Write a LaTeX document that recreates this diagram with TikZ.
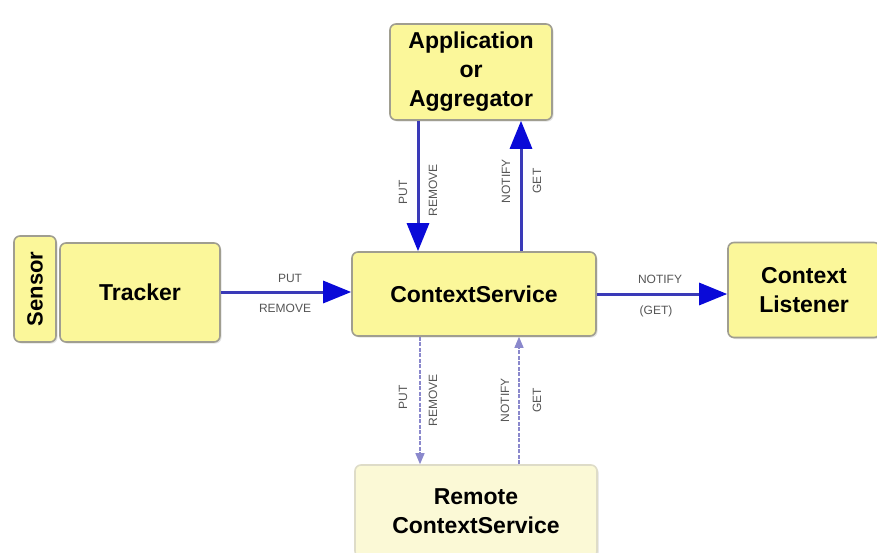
\documentclass[tikz,border=0pt]{standalone}
\usepackage{fontspec}
\setmainfont{Liberation Sans}
\usetikzlibrary{arrows.meta,shadows}
\definecolor{boxfill}{HTML}{FBF79A}
\definecolor{boxline}{HTML}{A09E90}
\definecolor{palefill}{HTML}{FBF9D6}
\definecolor{paleline}{HTML}{DEDCC8}
\definecolor{shaft}{HTML}{3A3AB8}
\definecolor{headc}{HTML}{0A0AD8}
\definecolor{thinc}{HTML}{8A88CC}
\definecolor{lblc}{HTML}{555555}
\begin{document}
\begin{tikzpicture}[x=1pt,y=-1pt,
  box/.style={draw=boxline,line width=1.6pt,fill=boxfill,rounded corners=6pt,
    align=center,inner sep=2pt,font=\fontsize{23}{29}\selectfont\bfseries,
    drop shadow={shadow xshift=1.5pt,shadow yshift=-1.5pt,fill=gray!45}},
  palebox/.style={box,draw=paleline,fill=palefill,drop shadow={shadow xshift=1.5pt,shadow yshift=-1.5pt,fill=gray!20}},
  bigarrow/.style={draw=shaft,line width=3pt,-{Triangle[length=28pt,width=22pt,fill=headc,color=headc]}},
  thinarrow/.style={draw=thinc,line width=1.2pt,dash pattern=on 4pt off 1.5pt,-{Triangle[length=11pt,width=9pt,fill=thinc,color=thinc]}},
  lbl/.style={text=lblc,font=\fontsize{12}{14}\selectfont,inner sep=1pt},
  vlbl/.style={lbl,rotate=90}]
\useasboundingbox (0,0) rectangle (877,552);
% nodes
\node[box,minimum width=162pt,minimum height=96pt] (app) at (471,72) {Application\\or\\Aggregator};
\node[box,minimum width=244pt,minimum height=84pt] (cs) at (474,294) {ContextService};
\node[box,minimum width=160pt,minimum height=99pt] (tracker) at (140,292.5) {Tracker};
\node[box,minimum width=42pt,minimum height=106pt] (sensor) at (35,289) {};
\node[rotate=90,font=\fontsize{22}{26}\selectfont\bfseries] (sensortxt) at (sensor.center) {Sensor};
\node[box,minimum width=152pt,minimum height=95pt] (listener) at (804,290) {Context\\Listener};
\node[palebox,minimum width=242pt,minimum height=92pt] (remote) at (476,511) {Remote\\ContextService};
% helper x positions
\coordinate (xa) at (418,0);
\coordinate (xb) at (521,0);
\coordinate (xc) at (420,0);
\coordinate (xd) at (519,0);
\coordinate (ya) at (0,292);
\coordinate (yb) at (0,294);
% connectors
\draw[bigarrow] (app.south -| xa) -- (cs.north -| xa);
\draw[bigarrow] (cs.north -| xb) -- (app.south -| xb);
\draw[bigarrow] (tracker.east |- ya) -- (cs.west |- ya);
\draw[bigarrow] (cs.east |- yb) -- (listener.west |- yb);
\draw[thinarrow] (cs.south -| xc) -- (remote.north -| xc);
\draw[thinarrow] (remote.north -| xd) -- (cs.south -| xd);
% labels
\node[lbl] (l1) at (290,278) {PUT};
\node[lbl] (l2) at (285,308) {REMOVE};
\node[lbl] (l3) at (660,279) {NOTIFY};
\node[lbl] (l4) at (656,311) {(GET)};
\node[vlbl] (l5) at (403,192) {PUT};
\node[vlbl] (l6) at (433,190) {REMOVE};
\node[vlbl] (l7) at (506,181) {NOTIFY};
\node[vlbl] (l8) at (537,181) {GET};
\node[vlbl] (l9) at (403,397) {PUT};
\node[vlbl] (l10) at (433,400) {REMOVE};
\node[vlbl] (l11) at (505,400) {NOTIFY};
\node[vlbl] (l12) at (537,400) {GET};
\end{tikzpicture}
\end{document}
